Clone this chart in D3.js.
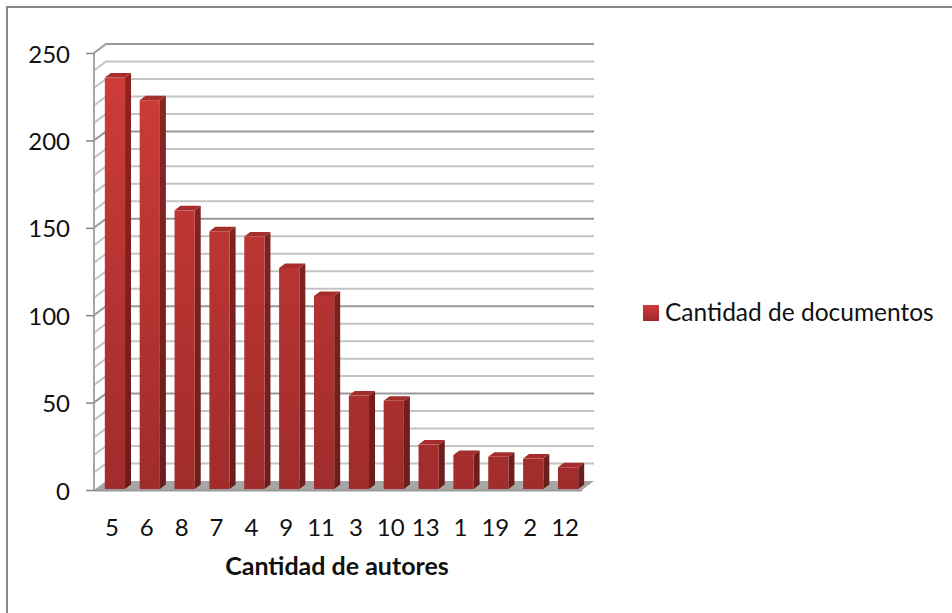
<!DOCTYPE html>
<html><head><meta charset="utf-8">
<script src="https://cdn.jsdelivr.net/npm/d3@7"></script>
<style>html,body{margin:0;padding:0;background:#fff}svg{display:block}text{font-family:Lato,"Open Sans",sans-serif;fill:#111}</style>
</head><body><div id="c"></div>
<script>
const categories=["5","6","8","7","4","9","11","3","10","13","1","19","2","12"];
const documentos=[236,223,160,148,145,127,111,54,51,26,20,19,18,13];
const yTicks=[0,50,100,150,200,250];
const yMinor=d3.range(0,251,10);
const seriesName="Cantidad de documentos";
const xTitle="Cantidad de autores";

const W=952,H=613;
const svg=d3.select("#c").append("svg").attr("width",W).attr("height",H);
const defs=svg.append("defs");
const g1=defs.append("linearGradient").attr("id","front").attr("gradientUnits","userSpaceOnUse").attr("x1",0).attr("y1",60).attr("x2",0).attr("y2",490);
g1.append("stop").attr("offset",0).attr("stop-color","#cf3c39");
g1.append("stop").attr("offset",1).attr("stop-color","#a02c2b");
const g2=defs.append("linearGradient").attr("id","side").attr("gradientUnits","userSpaceOnUse").attr("x1",0).attr("y1",60).attr("x2",0).attr("y2",490);
g2.append("stop").attr("offset",0).attr("stop-color","#8c2624");
g2.append("stop").attr("offset",1).attr("stop-color","#6b1d1c");
const g3=defs.append("linearGradient").attr("id","leg").attr("x1",0).attr("y1",0).attr("x2",0).attr("y2",1);
g3.append("stop").attr("offset",0).attr("stop-color","#d03c39");
g3.append("stop").attr("offset",1).attr("stop-color","#9d2b2a");

// frame: only the top and left edges fall inside the picture
svg.append("path").attr("d",`M7,${H}L7,7L${W},7`).attr("fill","none").attr("stroke","#868686").attr("stroke-width",2);

const y=d3.scaleLinear().domain([0,250]).range([490,53]);
const x=d3.scaleBand().domain(categories).range([97.5,585.5]).paddingInner(0.42).paddingOuter(0.21);
const dx=12,dy=-9,left=94,right=582;

// floor
svg.append("path").attr("d",`M${left},${y(0)}L${left+dx},${y(0)+dy}L${right+dx},${y(0)+dy}L${right},${y(0)}Z`).attr("fill","#a6a6a6");
svg.append("line").attr("x1",left).attr("x2",right).attr("y1",y(0)+0.5).attr("y2",y(0)+0.5).attr("stroke","#999").attr("stroke-width",2);

// grid
const grid=svg.append("g").attr("fill","none");
yMinor.forEach(v=>{
 const major=yTicks.includes(v);
 if(v>0) grid.append("path").attr("d",`M${left},${y(v)}L${left+dx},${y(v)+dy}L${right+dx},${y(v)+dy}`)
   .attr("stroke",major?"#999999":"#c4c4c4").attr("stroke-width",2);
});
grid.append("line").attr("x1",left).attr("x2",left).attr("y1",y(250)).attr("y2",y(0)).attr("stroke","#a6a6a6").attr("stroke-width",2);

// y axis
const ax=svg.append("g").attr("transform",`translate(${left},0)`).call(d3.axisLeft(y).tickValues(yTicks).tickSize(8).tickPadding(16));
ax.select(".domain").remove();
ax.selectAll("line").attr("stroke","#868686").attr("stroke-width",1.5);
ax.selectAll("text").attr("font-size",24).attr("font-family","Lato").attr("fill","#111").attr("y",1.5);

// bars
const bdx=6,bdy=-4.5;
const bars=svg.append("g").selectAll("g").data(categories).join("g");
bars.each(function(c,i){
 const s=d3.select(this),X=x(c),Y=y(documentos[i]),w=x.bandwidth(),B=y(0)-1;
 s.append("path").attr("d",`M${X+w},${Y}L${X+w+bdx},${Y+bdy}L${X+w+bdx},${B+bdy}L${X+w},${B}Z`).attr("fill","url(#side)");
 s.append("path").attr("d",`M${X},${Y}L${X+bdx},${Y+bdy}L${X+w+bdx},${Y+bdy}L${X+w},${Y}Z`).attr("fill","#a52d2b");
 s.append("rect").attr("x",X).attr("y",Y).attr("width",w).attr("height",B-Y).attr("fill","url(#front)");
});

// x labels
svg.append("g").selectAll("text").data(categories).join("text")
 .attr("x",c=>x(c)+x.bandwidth()/2-3).attr("y",536).attr("text-anchor","middle").attr("font-size",24).text(c=>c);
svg.append("text").attr("x",337).attr("y",575).attr("text-anchor","middle").attr("font-size",25).attr("font-weight",700).text(xTitle);

// legend
svg.append("rect").attr("x",643).attr("y",305).attr("width",16).attr("height",16).attr("fill","url(#leg)");
svg.append("text").attr("x",665).attr("y",321).attr("font-size",24.5).text(seriesName);
</script></body></html>
